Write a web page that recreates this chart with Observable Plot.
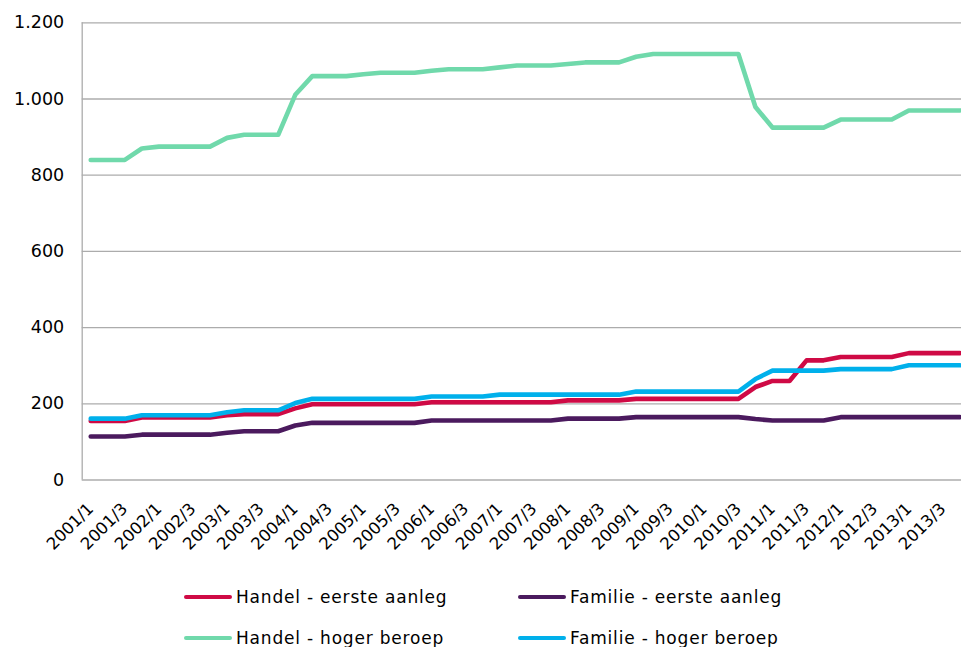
<!DOCTYPE html>
<html>
<head>
<meta charset="utf-8">
<script src="https://cdn.jsdelivr.net/npm/d3@7"></script>
<script src="https://cdn.jsdelivr.net/npm/@observablehq/plot@0.6"></script>
<style>
  html, body { margin: 0; padding: 0; background: #fff; overflow: hidden; }
  #wrap { position: relative; width: 961px; height: 647px; overflow: hidden; font-family: "DejaVu Sans", sans-serif; }
  #chart { position: absolute; left: 0; top: 0; }
  .leg { position: absolute; display: flex; align-items: center; font-size: 17px; letter-spacing: 0.8px; color: #000; white-space: nowrap; line-height: 20px; }
  .sw { display: inline-block; width: 48px; height: 4px; border-radius: 2px; margin-right: 4px; }
</style>
</head>
<body>
<div id="wrap">
  <div id="chart"></div>
  <div id="legend"></div>
</div>
<script>
const quarters = [];
for (let y = 2001; y <= 2013; y++) for (let q = 1; q <= 4; q++) quarters.push(`${y}/${q}`);

const handelEerste = [155,155,155,164,164,164,164,164,170,173,173,173,188,199,199,199,199,199,199,199,
  204,204,204,204,204,204,204,204,209,209,209,209,213,213,213,213,213,213,213,244,260,260,314,314,323,323,323,323,333,333,333,333];
const familieEerste = [114,114,114,119,119,119,119,119,124,128,128,128,143,150,150,150,150,150,150,150,
  156,156,156,156,156,156,156,156,161,161,161,161,165,165,165,165,165,165,165,160,156,156,156,156,165,165,165,165,165,165,165,165];
const handelHoger = [840,840,840,870,875,875,875,875,898,906,906,906,1011,1060,1060,1060,1065,1069,1069,1069,
  1074,1078,1078,1078,1083,1088,1088,1088,1092,1096,1096,1096,1111,1118,1118,1118,1118,1118,1118,979,925,925,925,925,946,946,946,946,970,970,970,970];
const familieHoger = [161,161,161,170,170,170,170,170,178,183,183,183,202,213,213,213,213,213,213,213,
  219,219,219,219,224,224,224,224,224,224,224,224,232,232,232,232,232,232,232,265,287,287,287,287,291,291,291,291,301,301,301,301];

const seriesNames = ["Handel - eerste aanleg", "Familie - eerste aanleg", "Handel - hoger beroep", "Familie - hoger beroep"];
const seriesColors = ["#cf0a45", "#4b1a5e", "#70d9ab", "#00b0eb"];
const seriesValues = [handelEerste, familieEerste, handelHoger, familieHoger];
const yTicks = [0, 200, 400, 600, 800, 1000, 1200];
const xTickIdx = quarters.map((_, i) => i).filter(i => i % 2 === 0);

const fmtNL = v => d3.format(",")(v).replace(/,/g, ".");

const marks = [
  Plot.gridY(yTicks, {stroke: "#acacac", strokeOpacity: 1, strokeWidth: 1.3}),
  Plot.ruleX([-0.5], {stroke: "#acacac", strokeWidth: 1.3}),
  Plot.axisY(yTicks, {tickSize: 0, tickPadding: 18, tickFormat: fmtNL, fontSize: 17.5, fill: "#000"}),
  Plot.axisX(xTickIdx, {tickSize: 0, tickPadding: 26, tickRotate: -45, tickFormat: i => quarters[i], fontSize: 16.5, fill: "#000"})
];
seriesValues.forEach((vals, s) => {
  marks.push(Plot.line(vals, {x: (d, i) => i, y: d => d, stroke: seriesColors[s], strokeWidth: 4.6,
    strokeLinejoin: "round", strokeLinecap: "round"}));
});

const chart = Plot.plot({
  width: 961,
  height: 575,
  marginTop: 22.3,
  marginBottom: 95.5,
  marginLeft: 81.7,
  marginRight: 0,
  style: {fontFamily: "DejaVu Sans", background: "#fff", color: "#000", overflow: "visible"},
  x: {type: "linear", domain: [-0.5, 51.09]},
  y: {domain: [0, 1200]},
  marks
});
document.getElementById("chart").appendChild(chart);

const legendPos = [[184, 587], [518, 587], [184, 628], [518, 628]];
const leg = document.getElementById("legend");
seriesNames.forEach((name, s) => {
  const d = document.createElement("div");
  d.className = "leg";
  d.style.left = legendPos[s][0] + "px";
  d.style.top = legendPos[s][1] + "px";
  const sw = document.createElement("span");
  sw.className = "sw";
  sw.style.background = seriesColors[s];
  d.appendChild(sw);
  d.appendChild(document.createTextNode(name));
  leg.appendChild(d);
});
</script>
</body>
</html>
